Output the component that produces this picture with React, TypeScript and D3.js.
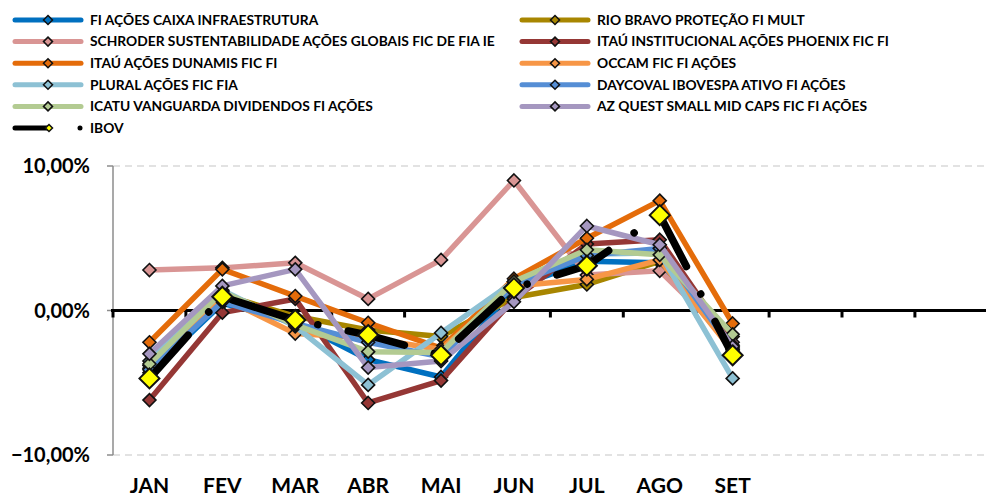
import { useEffect, useRef } from 'react'
import * as d3 from 'd3'

// monthly returns (%)
const months = ['JAN', 'FEV', 'MAR', 'ABR', 'MAI', 'JUN', 'JUL', 'AGO', 'SET', '', '', '']

const caixa = [-4.3, 0.5, -0.8, -3.4, -4.6, 1.6, 3.4, 3.3, -2.6]
const rioBravo = [-4.0, 1.1, -0.4, -1.35, -1.8, 0.9, 1.8, 3.4, -1.8]
const schroder = [2.8, 2.95, 3.3, 0.8, 3.5, 9.0, 2.45, 2.75, -2.2]
const phoenix = [-6.2, -0.15, 0.8, -6.4, -4.85, 0.8, 4.6, 4.9, -2.4]
const dunamis = [-2.2, 2.85, 1.0, -0.85, -2.6, 2.2, 5.0, 7.6, -0.9]
const occam = [-3.8, 0.9, -1.6, -1.9, -2.7, 1.7, 2.15, 3.5, -2.8]
const plural = [-3.5, 1.4, -1.1, -5.15, -1.55, 2.0, 3.9, 4.0, -4.7]
const daycoval = [-4.1, 0.6, -0.9, -2.2, -3.2, 1.8, 3.8, 4.3, -2.7]
const icatu = [-3.7, 1.3, -1.0, -2.85, -2.9, 2.0, 4.2, 3.85, -1.65]
const azQuest = [-3.0, 1.7, 2.85, -3.95, -3.5, 0.6, 5.85, 4.55, -2.5]
const ibov = [-4.7, 0.95, -0.66, -1.7, -3.1, 1.55, 3.1, 6.6, -3.1]

const yTicks = [10, 0, -10]

const series = [
	{ name: 'FI AÇÕES CAIXA INFRAESTRUTURA', values: caixa, color: '#0070C0' },
	{ name: 'RIO BRAVO PROTEÇÃO FI MULT', values: rioBravo, color: '#A88600' },
	{ name: 'SCHRODER SUSTENTABILIDADE AÇÕES GLOBAIS FIC DE FIA IE', values: schroder, color: '#D99594' },
	{ name: 'ITAÚ INSTITUCIONAL AÇÕES PHOENIX FIC FI', values: phoenix, color: '#953735' },
	{ name: 'ITAÚ AÇÕES DUNAMIS FIC FI', values: dunamis, color: '#E46C0A' },
	{ name: 'OCCAM FIC FI AÇÕES', values: occam, color: '#F79646' },
	{ name: 'PLURAL AÇÕES FIC FIA', values: plural, color: '#8DC1D4' },
	{ name: 'DAYCOVAL IBOVESPA ATIVO FI AÇÕES', values: daycoval, color: '#558ED5' },
	{ name: 'ICATU VANGUARDA DIVIDENDOS FI AÇÕES', values: icatu, color: '#B3CB92' },
	{ name: 'AZ QUEST SMALL MID CAPS FIC FI AÇÕES', values: azQuest, color: '#A597C0' },
	{ name: 'IBOV', values: ibov, color: '#000000', ibov: true },
]

const font = 'Lato, "Liberation Sans", Arial, sans-serif'
const ibovDash = '58 31 0.01 31'

const diamond = (r: number) => `M0,${-r}L${r},0L0,${r}L${-r},0Z`

export default function App() {
	const ref = useRef<SVGSVGElement>(null)

	useEffect(() => {
		const svg = d3.select(ref.current)
		svg.selectAll('*').remove()

		const x = d3
			.scaleBand<number>()
			.domain(d3.range(months.length))
			.range([113, 113 + 72.9 * months.length])
		const y = d3.scaleLinear().domain([-10, 10]).range([455, 166])
		const cx = (i: number) => (x(i) as number) + x.bandwidth() / 2
		const right = x.range()[1]

		// gridlines
		svg
			.append('g')
			.selectAll('line')
			.data(yTicks.filter((d) => d !== 0))
			.enter()
			.append('line')
			.attr('x1', 113)
			.attr('x2', right)
			.attr('y1', (d) => y(d))
			.attr('y2', (d) => y(d))
			.attr('stroke', '#D9D9D9')
			.attr('stroke-width', 1.5)
			.attr('stroke-dasharray', '7 5')

		// y axis
		svg
			.append('line')
			.attr('x1', 113)
			.attr('x2', 113)
			.attr('y1', y(10))
			.attr('y2', y(-10))
			.attr('stroke', '#8C8C8C')
			.attr('stroke-width', 1.5)
		svg
			.append('g')
			.selectAll('line')
			.data(yTicks)
			.enter()
			.append('line')
			.attr('x1', 107)
			.attr('x2', 113)
			.attr('y1', (d) => y(d))
			.attr('y2', (d) => y(d))
			.attr('stroke', '#8C8C8C')
			.attr('stroke-width', 1.5)
		svg
			.append('g')
			.selectAll('text')
			.data(yTicks)
			.enter()
			.append('text')
			.attr('x', 90)
			.attr('y', (d) => y(d))
			.attr('dy', '0.35em')
			.attr('text-anchor', 'end')
			.style('font', `bold 20px ${font}`)
			.attr('fill', '#000')
			.text((d) => d3.format('.2f')(d).replace('.', ',') + '%')

		// zero line with category ticks
		svg
			.append('line')
			.attr('x1', 111)
			.attr('x2', right)
			.attr('y1', y(0))
			.attr('y2', y(0))
			.attr('stroke', '#000')
			.attr('stroke-width', 3)
		svg
			.append('g')
			.selectAll('line')
			.data(d3.range(0, months.length + 1))
			.enter()
			.append('line')
			.attr('x1', (i) => (i === months.length ? right : (x(i) as number)))
			.attr('x2', (i) => (i === months.length ? right : (x(i) as number)))
			.attr('y1', y(0))
			.attr('y2', y(0) + 7)
			.attr('stroke', '#000')
			.attr('stroke-width', 3)

		// x labels
		svg
			.append('g')
			.selectAll('text')
			.data(months)
			.enter()
			.append('text')
			.attr('x', (_d, i) => cx(i))
			.attr('y', 493)
			.attr('text-anchor', 'middle')
			.style('font', `bold 21px ${font}`)
			.attr('fill', '#000')
			.text((d) => d)

		// series
		const line = d3
			.line<number>()
			.x((_d, i) => cx(i))
			.y((d) => y(d))

		series.forEach((s) => {
			const g = svg.append('g')
			g.append('path')
				.datum(s.values)
				.attr('d', line)
				.attr('fill', 'none')
				.attr('stroke', s.color)
				.attr('stroke-width', s.ibov ? 7.5 : 5.5)
				.attr('stroke-linejoin', 'round')
				.attr('stroke-linecap', 'round')
				.attr('stroke-dasharray', s.ibov ? ibovDash : null)
			g.selectAll('path.m')
				.data(s.values)
				.enter()
				.append('path')
				.attr('class', 'm')
				.attr('d', diamond(s.ibov ? 10 : 6.5))
				.attr('transform', (d, i) => `translate(${cx(i)},${y(d)})`)
				.attr('fill', s.ibov ? '#FFFF00' : s.color)
				.attr('stroke', '#111')
				.attr('stroke-width', s.ibov ? 2 : 1.6)
		})

		// legend (two columns, row-major)
		const legend = svg.append('g')
		series.forEach((s, i) => {
			const col = i % 2
			const row = Math.floor(i / 2)
			const x0 = col === 0 ? 13 : 520
			const ly = 20 + row * 21.6
			const item = legend.append('g').attr('transform', `translate(${x0},${ly})`)
			item
				.append('line')
				.attr('x1', 2)
				.attr('x2', 68)
				.attr('stroke', s.color)
				.attr('stroke-width', 5)
				.attr('stroke-linecap', 'round')
				.attr('stroke-dasharray', s.ibov ? ibovDash : null)
				.attr('stroke-dashoffset', s.ibov ? 24 : null)
			item
				.append('path')
				.attr('d', diamond(s.ibov ? 3.5 : 4.5))
				.attr('transform', `translate(${s.ibov ? 36 : 35},0)`)
				.attr('fill', s.ibov ? '#FFFF00' : s.color)
				.attr('stroke', '#111')
				.attr('stroke-width', 1.5)
			item
				.append('text')
				.attr('x', 77)
				.attr('dy', '0.35em')
				.style('font', `bold 13.8px ${font}`)
				.attr('fill', '#000')
				.text(s.name)
		})
	}, [])

	return (
		<svg
			ref={ref}
			width={986}
			height={499}
			style={{ position: 'absolute', left: 0, top: 0, background: '#fff' }}
		/>
	)
}
